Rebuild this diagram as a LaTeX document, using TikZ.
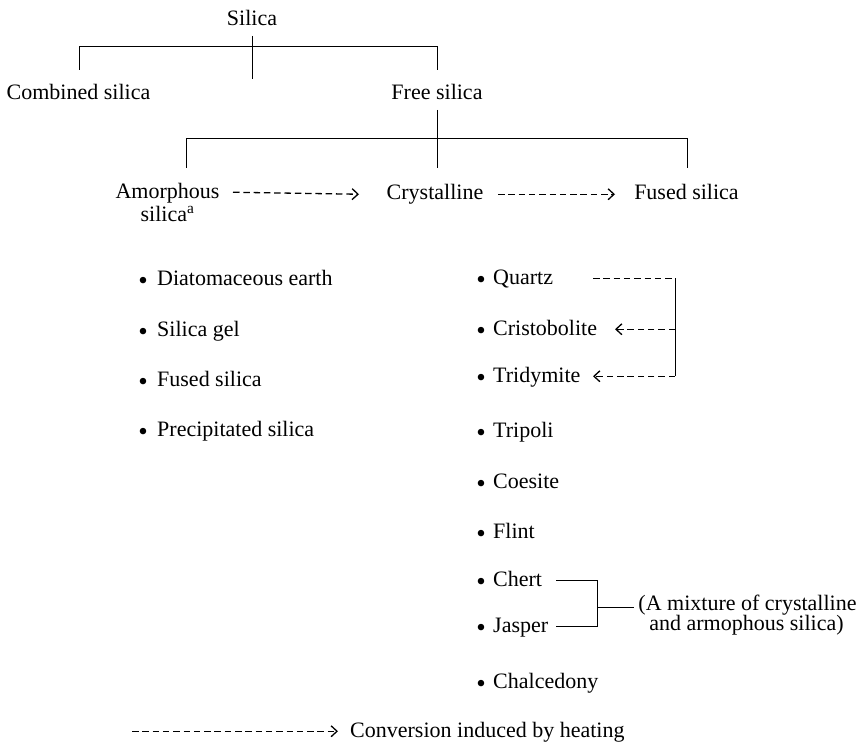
\documentclass[tikz,border=0pt]{standalone}
\usepackage{fontspec}
\setmainfont{Liberation Serif}
\usetikzlibrary{arrows.meta}
% a list bullet, set a little larger and lower than the plain one
\newcommand{\listdot}[1]{\llap{\raisebox{-4pt}{\fontsize{27}{27}\selectfont\textbullet}\kern#1}}
\begin{document}
\begin{tikzpicture}[x=1pt,y=-1pt,
  lbl/.style={inner sep=0pt, text height=15.4pt, text depth=3.9pt,
              font=\fontsize{22}{21}\selectfont},
  item/.style={lbl, anchor=base west},
  lbul/.style={item, execute at begin node={\listdot{9.3pt}}},
  rbul/.style={item, execute at begin node={\listdot{7.3pt}}},
  tree/.style={line width=1pt},
  heat/.style={line width=1.3pt, dash pattern=on 6.5pt off 3.8pt},
  heatarrow/.style={heat, -{Straight Barb[length=6pt,width=11pt,line width=1.3pt]}},
]
\useasboundingbox (0,0) rectangle (861,746);

% --- hierarchy labels
\node[lbl, anchor=base] (sil)    at (252,26)    {Silica};
\node[lbl, anchor=base] (comb)   at (78.5,100)  {Combined silica};
\node[lbl, anchor=base] (free)   at (437,100)   {Free silica};
\node[lbl, anchor=base] (amo)    at (167.5,198) {Amorphous};
\node[lbl, anchor=base, text height=13pt] (amosil) at (167.5,221) {silica\textsuperscript{a}};
\node[lbl, anchor=base] (cry)    at (435,200)   {Crystalline};
\node[lbl, anchor=base] (fus)    at (686.5,200) {Fused silica};

% --- first bracket: Silica -> combined / free
\coordinate (t0) at (252,36);
\coordinate (t1) at (252,79);
\coordinate (hl) at (79,47);
\coordinate (hr) at (437,47);
\coordinate (hend) at (0,70);
\draw[tree] (t0) -- (t1);
\draw[tree] (hl |- hend) -- (hl) -- (hr) -- (hr |- hend);

% --- second bracket: free silica -> three forms
\coordinate (f0) at (437,110);
\coordinate (f1) at (437,168);
\coordinate (ml) at (186,139);
\coordinate (mr) at (687,139);
\coordinate (mend) at (0,168);
\draw[tree] (f0) -- (f1);
\draw[tree] (ml |- mend) -- (ml) -- (mr) -- (mr |- mend);

% --- heating conversions between forms
\coordinate (a1s) at (233,0);
\coordinate (a1e) at (359,0);
\coordinate (a2s) at (498,0);
\coordinate (a2e) at (615,0);
\draw[heatarrow] (amo.east -| a1s) -- (cry.west -| a1e);
\draw[heatarrow] (cry.east -| a2s) -- (fus.west -| a2e);

% --- amorphous silica list
\node[lbul] (diat) at (157,285) {Diatomaceous earth};
\node[lbul] (gel)  at (157,336) {Silica gel};
\node[lbul] (fsl)  at (157,386) {Fused silica};
\node[lbul] (prec) at (157,436) {Precipitated silica};

% --- crystalline silica list
\node[rbul] (quartz) at (493,284) {Quartz};
\node[rbul] (cris)   at (493,335) {Cristobolite};
\node[rbul] (trid)   at (493,382) {Tridymite};
\node[rbul] (trip)   at (493,437) {Tripoli};
\node[rbul] (coes)   at (493,488) {Coesite};
\node[rbul] (flint)  at (493,538) {Flint};
\node[rbul] (chert)  at (493,586) {Chert};
\node[rbul] (jasper) at (493,632) {Jasper};
\node[rbul] (chal)   at (493,688) {Chalcedony};

% --- quartz conversions
\coordinate (qs) at (593,0);
\coordinate (qv) at (675,0);
\coordinate (cs) at (615,0);
\coordinate (ts) at (593,0);
\draw[heat] (quartz -| qs) -- (quartz -| qv);
\draw[tree] (quartz -| qv) -- (trid -| qv);
\draw[heatarrow] (cris -| qv) -- (cris -| cs);
\draw[heatarrow] (trid -| qv) -- (trid -| ts);

% --- chert / jasper bracket
\node[lbl, anchor=base] (mix1) at (747.5,610) {(A mixture of crystalline};
\node[lbl, anchor=base, text height=13pt] (mix2) at (746.5,630) {and armophous silica)};
\coordinate (ks) at (556,0);
\coordinate (kv) at (597,0);
\coordinate (kj) at (597,607);
\draw[tree] (chert -| ks) -| (jasper -| kv) -- (jasper -| ks);
\draw[tree, shorten >=4pt] (kj) -- (mix1.west |- kj);

% --- legend
\node[item] (leg) at (350,737) {Conversion induced by heating};
\coordinate (ls) at (132,0);
\draw[heatarrow] (leg.west -| ls) -- ([xshift=-12pt]leg.west);
\end{tikzpicture}
\end{document}
